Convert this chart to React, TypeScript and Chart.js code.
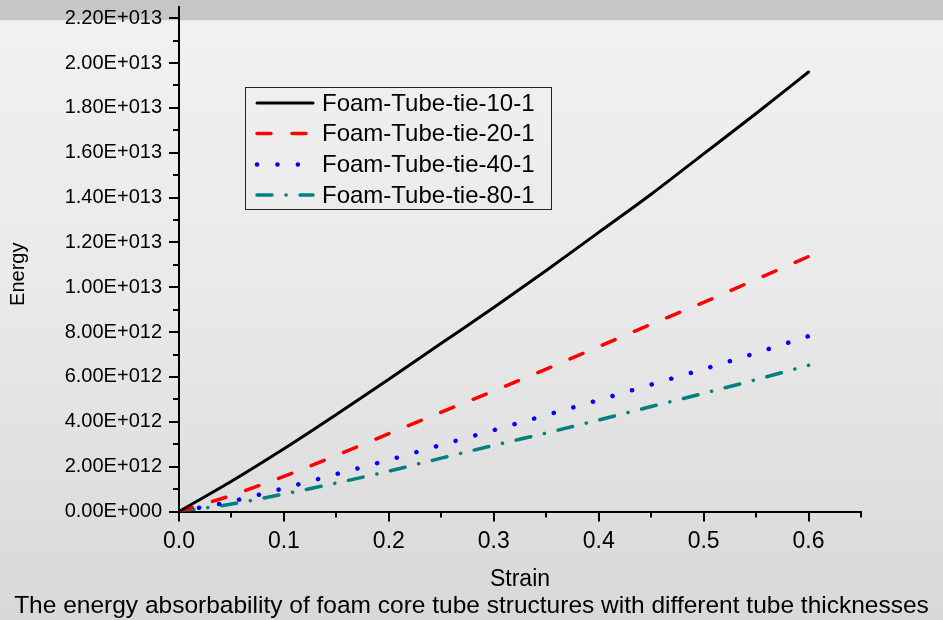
import React, { useEffect, useRef } from 'react';
import { Chart, registerables } from 'chart.js';

Chart.register(...registerables);

const FONT = '"Liberation Sans", Arial, Helvetica, sans-serif';

// Strain values (x)
const strainValues = [0, 0.05, 0.1, 0.15, 0.2, 0.25, 0.3, 0.35, 0.4, 0.45, 0.5, 0.55, 0.6];

// Energy series (y)
const energy10 = [0, 1.35e12, 2.8e12, 4.33e12, 5.9e12, 7.5e12, 9.1e12, 10.75e12, 12.45e12, 14.15e12, 15.95e12, 17.75e12, 19.6e12];
const energy20 = [0, 0.72e12, 1.57e12, 2.5e12, 3.47e12, 4.43e12, 5.38e12, 6.35e12, 7.35e12, 8.35e12, 9.33e12, 10.35e12, 11.37e12];
const energy40 = [0, 0.45e12, 1.04e12, 1.67e12, 2.3e12, 2.97e12, 3.63e12, 4.3e12, 4.97e12, 5.66e12, 6.35e12, 7.07e12, 7.82e12];
const energy80 = [0, 0.33e12, 0.78e12, 1.27e12, 1.8e12, 2.38e12, 2.95e12, 3.5e12, 4.08e12, 4.68e12, 5.27e12, 5.88e12, 6.52e12];

const seriesLabels = ['Foam-Tube-tie-10-1', 'Foam-Tube-tie-20-1', 'Foam-Tube-tie-40-1', 'Foam-Tube-tie-80-1'];
const seriesColors = ['#000000', '#ff0000', '#0000ff', '#008080'];

// Tick values
const xTickValues = [0, 0.05, 0.1, 0.15, 0.2, 0.25, 0.3, 0.35, 0.4, 0.45, 0.5, 0.55, 0.6, 0.65];
const yTickValues = [
  0, 1e12, 2e12, 3e12, 4e12, 5e12, 6e12, 7e12, 8e12, 9e12, 10e12, 11e12,
  12e12, 13e12, 14e12, 15e12, 16e12, 17e12, 18e12, 19e12, 20e12, 21e12, 22e12,
];

const xTitle = 'Strain';
const yTitle = 'Energy';
const caption = 'The energy absorbability of foam core tube structures with different tube thicknesses';

const xMin = 0;
const xMax = 0.65;
const yMin = 0;
const yMax = 2.25e13;

function sci(v: number): string {
  if (v === 0) return '0.00E+000';
  const e = Math.floor(Math.log10(v) + 1e-9);
  const m = v / Math.pow(10, e);
  return m.toFixed(2) + 'E+' + String(e).padStart(3, '0');
}

const isMajorX = (v: number) => Math.round(v * 100) % 10 === 0;
const isMajorY = (v: number) => Math.round(v / 1e12) % 2 === 0;

const tickMarksPlugin = {
  id: 'tickMarks',
  afterDraw(chart: any) {
    const ctx = chart.ctx;
    const area = chart.chartArea;
    const xs = chart.scales.x;
    const ys = chart.scales.y;
    ctx.save();
    ctx.strokeStyle = '#000';
    ctx.lineWidth = 2;
    ctx.lineCap = 'butt';
    for (const t of ys.ticks) {
      const y = Math.round(ys.getPixelForValue(t.value));
      const len = isMajorY(t.value) ? 10 : 6;
      ctx.beginPath();
      ctx.moveTo(area.left - len, y);
      ctx.lineTo(area.left, y);
      ctx.stroke();
    }
    for (const t of xs.ticks) {
      const x = Math.round(xs.getPixelForValue(t.value));
      const len = isMajorX(t.value) ? 10 : 6;
      ctx.beginPath();
      ctx.moveTo(x, area.bottom);
      ctx.lineTo(x, area.bottom + len);
      ctx.stroke();
    }
    ctx.restore();
  },
};

const annotationsPlugin = {
  id: 'annotations',
  afterDraw(chart: any) {
    const ctx = chart.ctx;
    const area = chart.chartArea;
    ctx.save();
    // legend box
    const left = 245;
    const top = 87;
    const width = 306;
    const height = 122;
    ctx.strokeStyle = '#222';
    ctx.lineWidth = 1;
    ctx.strokeRect(left + 0.5, top + 0.5, width, height);
    const rowY = [103, 133.5, 164.5, 195];
    chart.data.datasets.forEach((ds: any, i: number) => {
      const y = rowY[i];
      ctx.save();
      ctx.strokeStyle = ds.borderColor;
      ctx.lineWidth = ds.borderWidth;
      ctx.lineCap = 'round';
      ctx.setLineDash(ds.borderDash || []);
      ctx.beginPath();
      ctx.moveTo(257, y);
      ctx.lineTo(313, y);
      ctx.stroke();
      ctx.restore();
      ctx.fillStyle = '#000';
      ctx.font = '24px ' + FONT;
      ctx.textBaseline = 'middle';
      ctx.textAlign = 'left';
      ctx.fillText(ds.label, 322, y + 1);
    });
    // y axis title
    ctx.save();
    ctx.translate(18, (area.top + area.bottom) / 2 + 15);
    ctx.rotate(-Math.PI / 2);
    ctx.font = '20px ' + FONT;
    ctx.fillStyle = '#000';
    ctx.textAlign = 'center';
    ctx.textBaseline = 'middle';
    ctx.fillText(yTitle, 0, 0);
    ctx.restore();
    // caption
    ctx.font = '24.5px ' + FONT;
    ctx.textAlign = 'center';
    ctx.textBaseline = 'alphabetic';
    ctx.fillStyle = '#000';
    ctx.fillText(caption, 471.5, 613);
    ctx.restore();
  },
};

export default function App() {
  const canvasRef = useRef<HTMLCanvasElement | null>(null);

  useEffect(() => {
    const canvas = canvasRef.current;
    if (!canvas) return;
    const mk = (arr: number[]) => strainValues.map((x, i) => ({ x, y: arr[i] }));
    const common = { pointRadius: 0, cubicInterpolationMode: 'monotone', fill: false, borderCapStyle: 'round' };
    const chart = new Chart(canvas, {
      type: 'line',
      data: {
        datasets: [
          { ...common, label: seriesLabels[0], data: mk(energy10), borderColor: seriesColors[0], borderWidth: 3, borderDash: [] },
          { ...common, label: seriesLabels[1], data: mk(energy20), borderColor: seriesColors[1], borderWidth: 3.5, borderDash: [14, 21] },
          { ...common, label: seriesLabels[2], data: mk(energy40), borderColor: seriesColors[2], borderWidth: 4.5, borderDash: [0.1, 20.3] },
          { ...common, label: seriesLabels[3], data: mk(energy80), borderColor: seriesColors[3], borderWidth: 3.5, borderDash: [15, 14, 0.1, 14] },
        ],
      },
      options: {
        responsive: false,
        animation: false,
        devicePixelRatio: 1,
        layout: { padding: { top: 7, right: 82, left: 0, bottom: 26.5 } },
        plugins: {
          legend: { display: false },
          tooltip: { enabled: false },
        },
        scales: {
          x: {
            type: 'linear',
            min: xMin,
            max: xMax,
            grid: { display: false, drawTicks: false },
            border: { display: true, color: '#000', width: 2 },
            afterBuildTicks: (s: any) => { s.ticks = xTickValues.map((value) => ({ value })); },
            ticks: {
              autoSkip: false,
              maxRotation: 0,
              padding: 16,
              color: '#000',
              font: { family: FONT, size: 23 },
              callback: (v: any) => (isMajorX(Number(v)) ? Number(v).toFixed(1) : ''),
            },
            title: { display: true, text: xTitle, color: '#000', font: { family: FONT, size: 23 }, padding: { top: 0, bottom: 0 } },
            afterFit: (s: any) => { s.height = 82; s.paddingLeft = 0; s.paddingRight = 0; },
          },
          y: {
            type: 'linear',
            min: yMin,
            max: yMax,
            grid: { display: false, drawTicks: false },
            border: { display: true, color: '#000', width: 2 },
            afterBuildTicks: (s: any) => { s.ticks = yTickValues.map((value) => ({ value })); },
            ticks: {
              autoSkip: false,
              padding: 17,
              color: '#000',
              font: { family: FONT, size: 20 },
              callback: (v: any) => (isMajorY(Number(v)) ? sci(Number(v)) : ''),
            },
            title: { display: false, text: yTitle },
            afterFit: (s: any) => { s.width = 179; s.paddingTop = 0; s.paddingBottom = 0; },
          },
        },
      } as any,
      plugins: [tickMarksPlugin, annotationsPlugin],
    });
    return () => chart.destroy();
  }, []);

  return (
    <div
      style={{
        position: 'fixed',
        left: 0,
        top: 0,
        width: 943,
        height: 620,
        background: 'linear-gradient(to bottom, #c7c5c6 0px, #c7c5c6 20px, #e6e6e6 20px, #f1f1f1 22px, #e9e9e9 300px, #d8d8d8 620px)',
      }}
    >
      <canvas ref={canvasRef} width={943} height={620} style={{ width: 943, height: 620, display: 'block' }} />
    </div>
  );
}
